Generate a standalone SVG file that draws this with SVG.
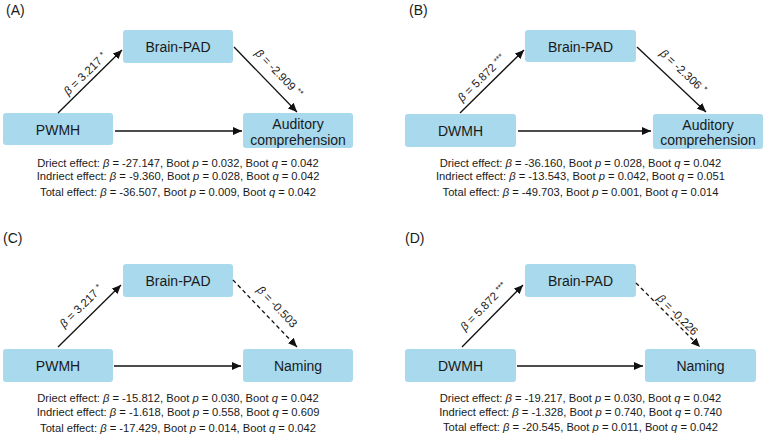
<svg xmlns="http://www.w3.org/2000/svg" width="767" height="438" viewBox="0 0 767 438">
<defs>
<marker id="ah" markerUnits="userSpaceOnUse" markerWidth="10" markerHeight="8" refX="9" refY="4" orient="auto">
<path d="M0,0 L9,4 L0,8 z" fill="#111"/>
</marker>
<style>
.box{fill:#a8d9ed;}
.nt{font-family:"Liberation Sans",Arial,sans-serif;font-size:14px;fill:#1a1a1a;text-anchor:middle;}
.pl{font-family:"Liberation Sans",Arial,sans-serif;font-size:14px;fill:#1a1a1a;}
.et{font-family:"Liberation Sans",Arial,sans-serif;font-size:11.2px;fill:#1a1a1a;text-anchor:middle;}
.lb{font-family:"Liberation Sans",Arial,sans-serif;font-size:11.5px;fill:#1a1a1a;text-anchor:middle;}
.it{font-style:italic;}
.sup{font-size:8.5px;}
.ln{stroke:#111;stroke-width:1.3;fill:none;marker-end:url(#ah);}
.dash{stroke-dasharray:4 3;}
</style>
</defs>
<rect width="767" height="438" fill="#fff"/>

<!-- Panel labels -->
<text class="pl" x="6" y="15">(A)</text>
<text class="pl" x="409" y="15">(B)</text>
<text class="pl" x="3" y="243">(C)</text>
<text class="pl" x="405" y="243">(D)</text>

<!-- Panel A nodes -->
<g id="a-brainpad"><rect class="box" x="123" y="30" width="110" height="33" rx="3"/><text class="nt" x="178" y="52">Brain-PAD</text></g>
<g id="a-pwmh"><rect class="box" x="3" y="113" width="110" height="32" rx="3"/><text class="nt" x="58" y="135">PWMH</text></g>
<g id="a-aud"><rect class="box" x="243" y="113" width="110" height="35" rx="3"/><text class="nt" x="298" y="129">Auditory</text><text class="nt" x="298" y="144.5">comprehension</text></g>

<!-- Panel B nodes -->
<g id="b-brainpad"><rect class="box" x="525" y="30" width="111" height="32" rx="3"/><text class="nt" x="580.5" y="51.5">Brain-PAD</text></g>
<g id="b-dwmh"><rect class="box" x="405" y="114" width="111" height="33" rx="3"/><text class="nt" x="460.5" y="136">DWMH</text></g>
<g id="b-aud"><rect class="box" x="653" y="114" width="110" height="35" rx="3"/><text class="nt" x="708" y="129.5">Auditory</text><text class="nt" x="708" y="145">comprehension</text></g>

<!-- Panel C nodes -->
<g id="c-brainpad"><rect class="box" x="123" y="264" width="110" height="33" rx="3"/><text class="nt" x="178" y="286">Brain-PAD</text></g>
<g id="c-pwmh"><rect class="box" x="3" y="349" width="110" height="33" rx="3"/><text class="nt" x="58" y="371">PWMH</text></g>
<g id="c-naming"><rect class="box" x="243" y="349" width="110" height="33" rx="3"/><text class="nt" x="298" y="371">Naming</text></g>

<!-- Panel D nodes -->
<g id="d-brainpad"><rect class="box" x="525" y="264" width="111" height="33" rx="3"/><text class="nt" x="580.5" y="286">Brain-PAD</text></g>
<g id="d-dwmh"><rect class="box" x="405" y="349" width="111" height="33" rx="3"/><text class="nt" x="460.5" y="371">DWMH</text></g>
<g id="d-naming"><rect class="box" x="645" y="349" width="111" height="33" rx="3"/><text class="nt" x="700.5" y="371">Naming</text></g>

<!-- Connectors -->
<g id="connectors">
<line class="ln" x1="58" y1="113" x2="122" y2="50"/>
<line class="ln" x1="234" y1="47" x2="297" y2="112"/>
<line class="ln" x1="115" y1="131" x2="242" y2="131"/>

<line class="ln" x1="460" y1="113" x2="524" y2="50"/>
<line class="ln" x1="637" y1="47" x2="706" y2="112"/>
<line class="ln" x1="518" y1="131" x2="651" y2="131"/>

<line class="ln" x1="58" y1="347" x2="121" y2="285"/>
<line class="ln dash" x1="233" y1="280" x2="297" y2="347"/>
<line class="ln" x1="114" y1="366" x2="241" y2="366"/>

<line class="ln" x1="462" y1="347" x2="523" y2="285"/>
<line class="ln dash" x1="636" y1="283" x2="700" y2="347"/>
<line class="ln" x1="517" y1="366" x2="643" y2="366"/>
</g>

<!-- Connector labels -->
<text class="lb" transform="translate(87.9,76.5) rotate(-44.5)"><tspan class="it">β</tspan> = 3.217 <tspan class="sup" dy="-3">*</tspan></text>
<text class="lb" transform="translate(276.2,76.1) rotate(45.9)"><tspan class="it">β</tspan> = -2.909 <tspan class="sup" dy="-3">**</tspan></text>
<text class="lb" transform="translate(484.2,80.7) rotate(-44.5)"><tspan class="it">β</tspan> = 5.872 <tspan class="sup" dy="-3">***</tspan></text>
<text class="lb" transform="translate(680.6,74.3) rotate(43.3)"><tspan class="it">β</tspan> = -2.306 <tspan class="sup" dy="-3">*</tspan></text>
<text class="lb" transform="translate(83.9,308.9) rotate(-44.5)"><tspan class="it">β</tspan> = 3.217 <tspan class="sup" dy="-3">*</tspan></text>
<text class="lb" transform="translate(274.4,309.5) rotate(46.3)"><tspan class="it">β</tspan> = -0.503</text>
<text class="lb" transform="translate(486.5,309.3) rotate(-45.5)"><tspan class="it">β</tspan> = 5.872 <tspan class="sup" dy="-3">***</tspan></text>
<text class="lb" transform="translate(674.8,317.6) rotate(45)"><tspan class="it">β</tspan> = -0.226</text>

<!-- Effect texts -->
<g id="a-effects">
<text class="et" x="178" y="166.5">Driect effect: <tspan class="it">β</tspan> = -27.147, Boot <tspan class="it">p</tspan> = 0.032, Boot <tspan class="it">q</tspan> = 0.042</text>
<text class="et" x="178" y="180">Indriect effect: <tspan class="it">β</tspan> = -9.360, Boot <tspan class="it">p</tspan> = 0.028, Boot <tspan class="it">q</tspan> = 0.042</text>
<text class="et" x="178" y="196">Total effect: <tspan class="it">β</tspan> = -36.507, Boot <tspan class="it">p</tspan> = 0.009, Boot <tspan class="it">q</tspan> = 0.042</text>
</g>
<g id="b-effects">
<text class="et" x="580.5" y="166.5">Driect effect: <tspan class="it">β</tspan> = -36.160, Boot <tspan class="it">p</tspan> = 0.028, Boot <tspan class="it">q</tspan> = 0.042</text>
<text class="et" x="580.5" y="180">Indriect effect: <tspan class="it">β</tspan> = -13.543, Boot <tspan class="it">p</tspan> = 0.042, Boot <tspan class="it">q</tspan> = 0.051</text>
<text class="et" x="580.5" y="196">Total effect: <tspan class="it">β</tspan> = -49.703, Boot <tspan class="it">p</tspan> = 0.001, Boot <tspan class="it">q</tspan> = 0.014</text>
</g>
<g id="c-effects">
<text class="et" x="178" y="401.5">Driect effect: <tspan class="it">β</tspan> = -15.812, Boot <tspan class="it">p</tspan> = 0.030, Boot <tspan class="it">q</tspan> = 0.042</text>
<text class="et" x="178" y="416">Indriect effect: <tspan class="it">β</tspan> = -1.618, Boot <tspan class="it">p</tspan> = 0.558, Boot <tspan class="it">q</tspan> = 0.609</text>
<text class="et" x="178" y="431.5">Total effect: <tspan class="it">β</tspan> = -17.429, Boot <tspan class="it">p</tspan> = 0.014, Boot <tspan class="it">q</tspan> = 0.042</text>
</g>
<g id="d-effects">
<text class="et" x="580.5" y="401.5">Driect effect: <tspan class="it">β</tspan> = -19.217, Boot <tspan class="it">p</tspan> = 0.030, Boot <tspan class="it">q</tspan> = 0.042</text>
<text class="et" x="580.5" y="416">Indriect effect: <tspan class="it">β</tspan> = -1.328, Boot <tspan class="it">p</tspan> = 0.740, Boot <tspan class="it">q</tspan> = 0.740</text>
<text class="et" x="580.5" y="431">Total effect: <tspan class="it">β</tspan> = -20.545, Boot <tspan class="it">p</tspan> = 0.011, Boot <tspan class="it">q</tspan> = 0.042</text>
</g>
</svg>
